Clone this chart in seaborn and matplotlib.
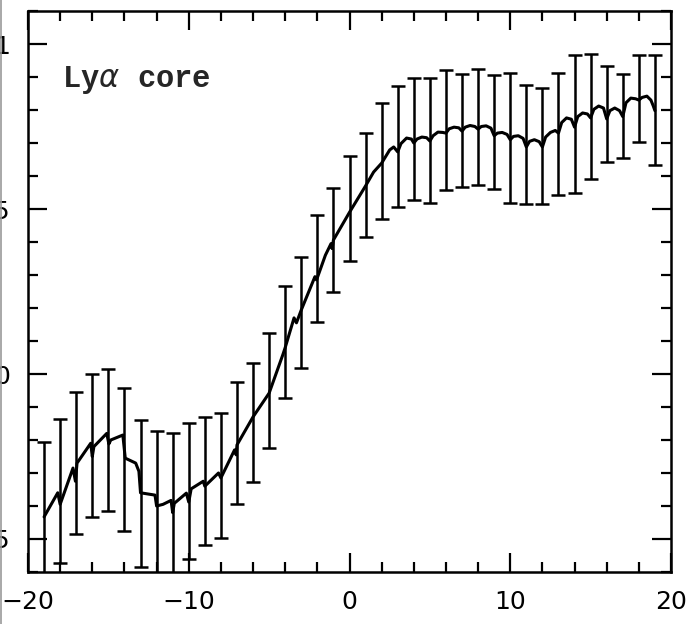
import numpy as np
import pandas as pd
import seaborn as sns
import matplotlib.pyplot as plt
from matplotlib.lines import Line2D
from matplotlib.ticker import MultipleLocator

# Error bar positions and the read-off bar ends (correlation units)
lag = list(range(-19, 20))
bar_hi = [-0.206, -0.136, -0.055, 0.000, 0.015, -0.042, -0.138, -0.173, -0.179, -0.148,
          -0.130, -0.118, -0.024, 0.033, 0.124, 0.267, 0.355, 0.482, 0.564, 0.661,
          0.730, 0.821, 0.873, 0.897, 0.897, 0.921, 0.909, 0.924, 0.906, 0.912,
          0.876, 0.867, 0.912, 0.967, 0.970, 0.933, 0.909, 0.967, 0.967]
bar_lo = [-0.660, -0.573, -0.485, -0.433, -0.415, -0.476, -0.585, -0.620, -0.630, -0.561,
          -0.518, -0.497, -0.394, -0.327, -0.224, -0.073, 0.018, 0.158, 0.248, 0.342,
          0.415, 0.470, 0.506, 0.527, 0.518, 0.558, 0.567, 0.573, 0.561, 0.518,
          0.515, 0.515, 0.542, 0.548, 0.591, 0.642, 0.655, 0.703, 0.633]

# The curve, traced with its small notches and scallops
curve_x = [-19.0, -18.15, -18.0, -17.2, -17.05, -16.95, -16.1, -16.0, -15.9, -15.1,
           -14.97, -14.85, -14.1, -13.95, -13.3, -13.1, -13.0, -12.1, -12.0, -11.6,
           -11.1, -11.0, -10.9, -10.15, -10.0, -9.85, -9.1, -9.0, -8.15, -8.0,
           -7.15, -7.05, -7.0, -6.0, -5.0, -4.15, -4.0, -3.45, -3.3, -3.0,
           -2.15, -2.05, -1.5, -1.15, -1.08, -1.0, 0.0, 1.0, 1.5, 2.0,
           2.5, 2.75, 3.0, 3.2, 3.55, 3.85, 4.0, 4.2, 4.5, 4.8,
           5.0, 5.2, 5.5, 5.8, 6.0, 6.2, 6.5, 6.8, 7.0, 7.2,
           7.5, 7.8, 8.0, 8.2, 8.5, 8.8, 9.0, 9.2, 9.5, 9.8,
           10.0, 10.2, 10.5, 10.8, 11.0, 11.2, 11.5, 11.8, 12.0, 12.2,
           12.5, 12.8, 13.0, 13.2, 13.5, 13.8, 14.0, 14.2, 14.5, 14.8,
           15.0, 15.2, 15.5, 15.8, 16.0, 16.2, 16.5, 16.8, 17.0, 17.2,
           17.5, 17.8, 18.0, 18.2, 18.5, 18.75, 18.9, 19.0]
curve_y = [-0.433, -0.360, -0.395, -0.285, -0.325, -0.270, -0.210, -0.250, -0.220, -0.180,
           -0.212, -0.200, -0.185, -0.255, -0.270, -0.295, -0.360, -0.367, -0.400, -0.395,
           -0.383, -0.420, -0.392, -0.361, -0.388, -0.348, -0.325, -0.340, -0.300, -0.315,
           -0.230, -0.245, -0.215, -0.130, -0.058, 0.058, 0.080, 0.170, 0.155, 0.194,
           0.295, 0.285, 0.360, 0.395, 0.380, 0.406, 0.490, 0.570, 0.612, 0.639,
           0.679, 0.688, 0.673, 0.698, 0.715, 0.712, 0.700, 0.712, 0.718, 0.716,
           0.706, 0.722, 0.733, 0.732, 0.730, 0.743, 0.748, 0.746, 0.736, 0.748,
           0.753, 0.750, 0.742, 0.750, 0.752, 0.745, 0.722, 0.730, 0.732, 0.726,
           0.710, 0.720, 0.722, 0.714, 0.688, 0.705, 0.710, 0.704, 0.688, 0.718,
           0.732, 0.738, 0.730, 0.762, 0.776, 0.772, 0.748, 0.780, 0.791, 0.788,
           0.776, 0.802, 0.812, 0.806, 0.773, 0.798, 0.806, 0.798, 0.780, 0.822,
           0.836, 0.834, 0.830, 0.838, 0.842, 0.830, 0.812, 0.798]

bars = pd.DataFrame({"lag": lag, "hi": bar_hi, "lo": bar_lo})
bars["mid"] = (bars["hi"] + bars["lo"]) / 2
bars["err"] = (bars["hi"] - bars["lo"]) / 2
curve = pd.DataFrame({"lag": curve_x, "corr": curve_y})

sns.set_style("ticks")

fig = plt.figure(figsize=(6.93, 6.24), dpi=100)
ax = fig.add_axes([28 / 693, 1 - 572 / 624, 643 / 693, 561 / 624])

sns.lineplot(data=curve, x="lag", y="corr", ax=ax, sort=False, estimator=None,
             color="black", lw=2.2)
ax.errorbar(bars["lag"], bars["mid"], yerr=bars["err"], fmt="none", ecolor="black",
            elinewidth=1.8, capsize=5, capthick=1.8)

ax.set_xlim(-20, 20)
ax.set_ylim(-0.6, 1.1)
ax.xaxis.set_major_locator(MultipleLocator(10))
ax.xaxis.set_minor_locator(MultipleLocator(2))
ax.set_yticks([-0.5, 0, 0.5, 1])
ax.set_yticklabels(["\u22120.5", "0", "0.5", "1"])
ax.yaxis.set_minor_locator(MultipleLocator(0.1))
ax.tick_params(which="both", direction="in", top=True, right=True, width=1.6,
               colors="black", labelsize=18)
ax.tick_params(which="major", length=14)
ax.tick_params(which="minor", length=7)
ax.tick_params(axis="x", pad=13)
ax.tick_params(axis="y", pad=13)
for s in ax.spines.values():
    s.set_linewidth(1.8)
    s.set_color("black")
ax.set_xlabel("")
ax.set_ylabel("")

ax.text(-17.9, 0.87, "Ly$\\alpha$ core", fontsize=22, family="Liberation Mono",
        weight="bold", va="baseline", ha="left")

# faint edge of the neighbouring panel in the scan
fig.add_artist(Line2D([0.002, 0.002], [0, 1], color="#9a9a9a", lw=1.2))

fig.savefig("out.png", dpi=100)
